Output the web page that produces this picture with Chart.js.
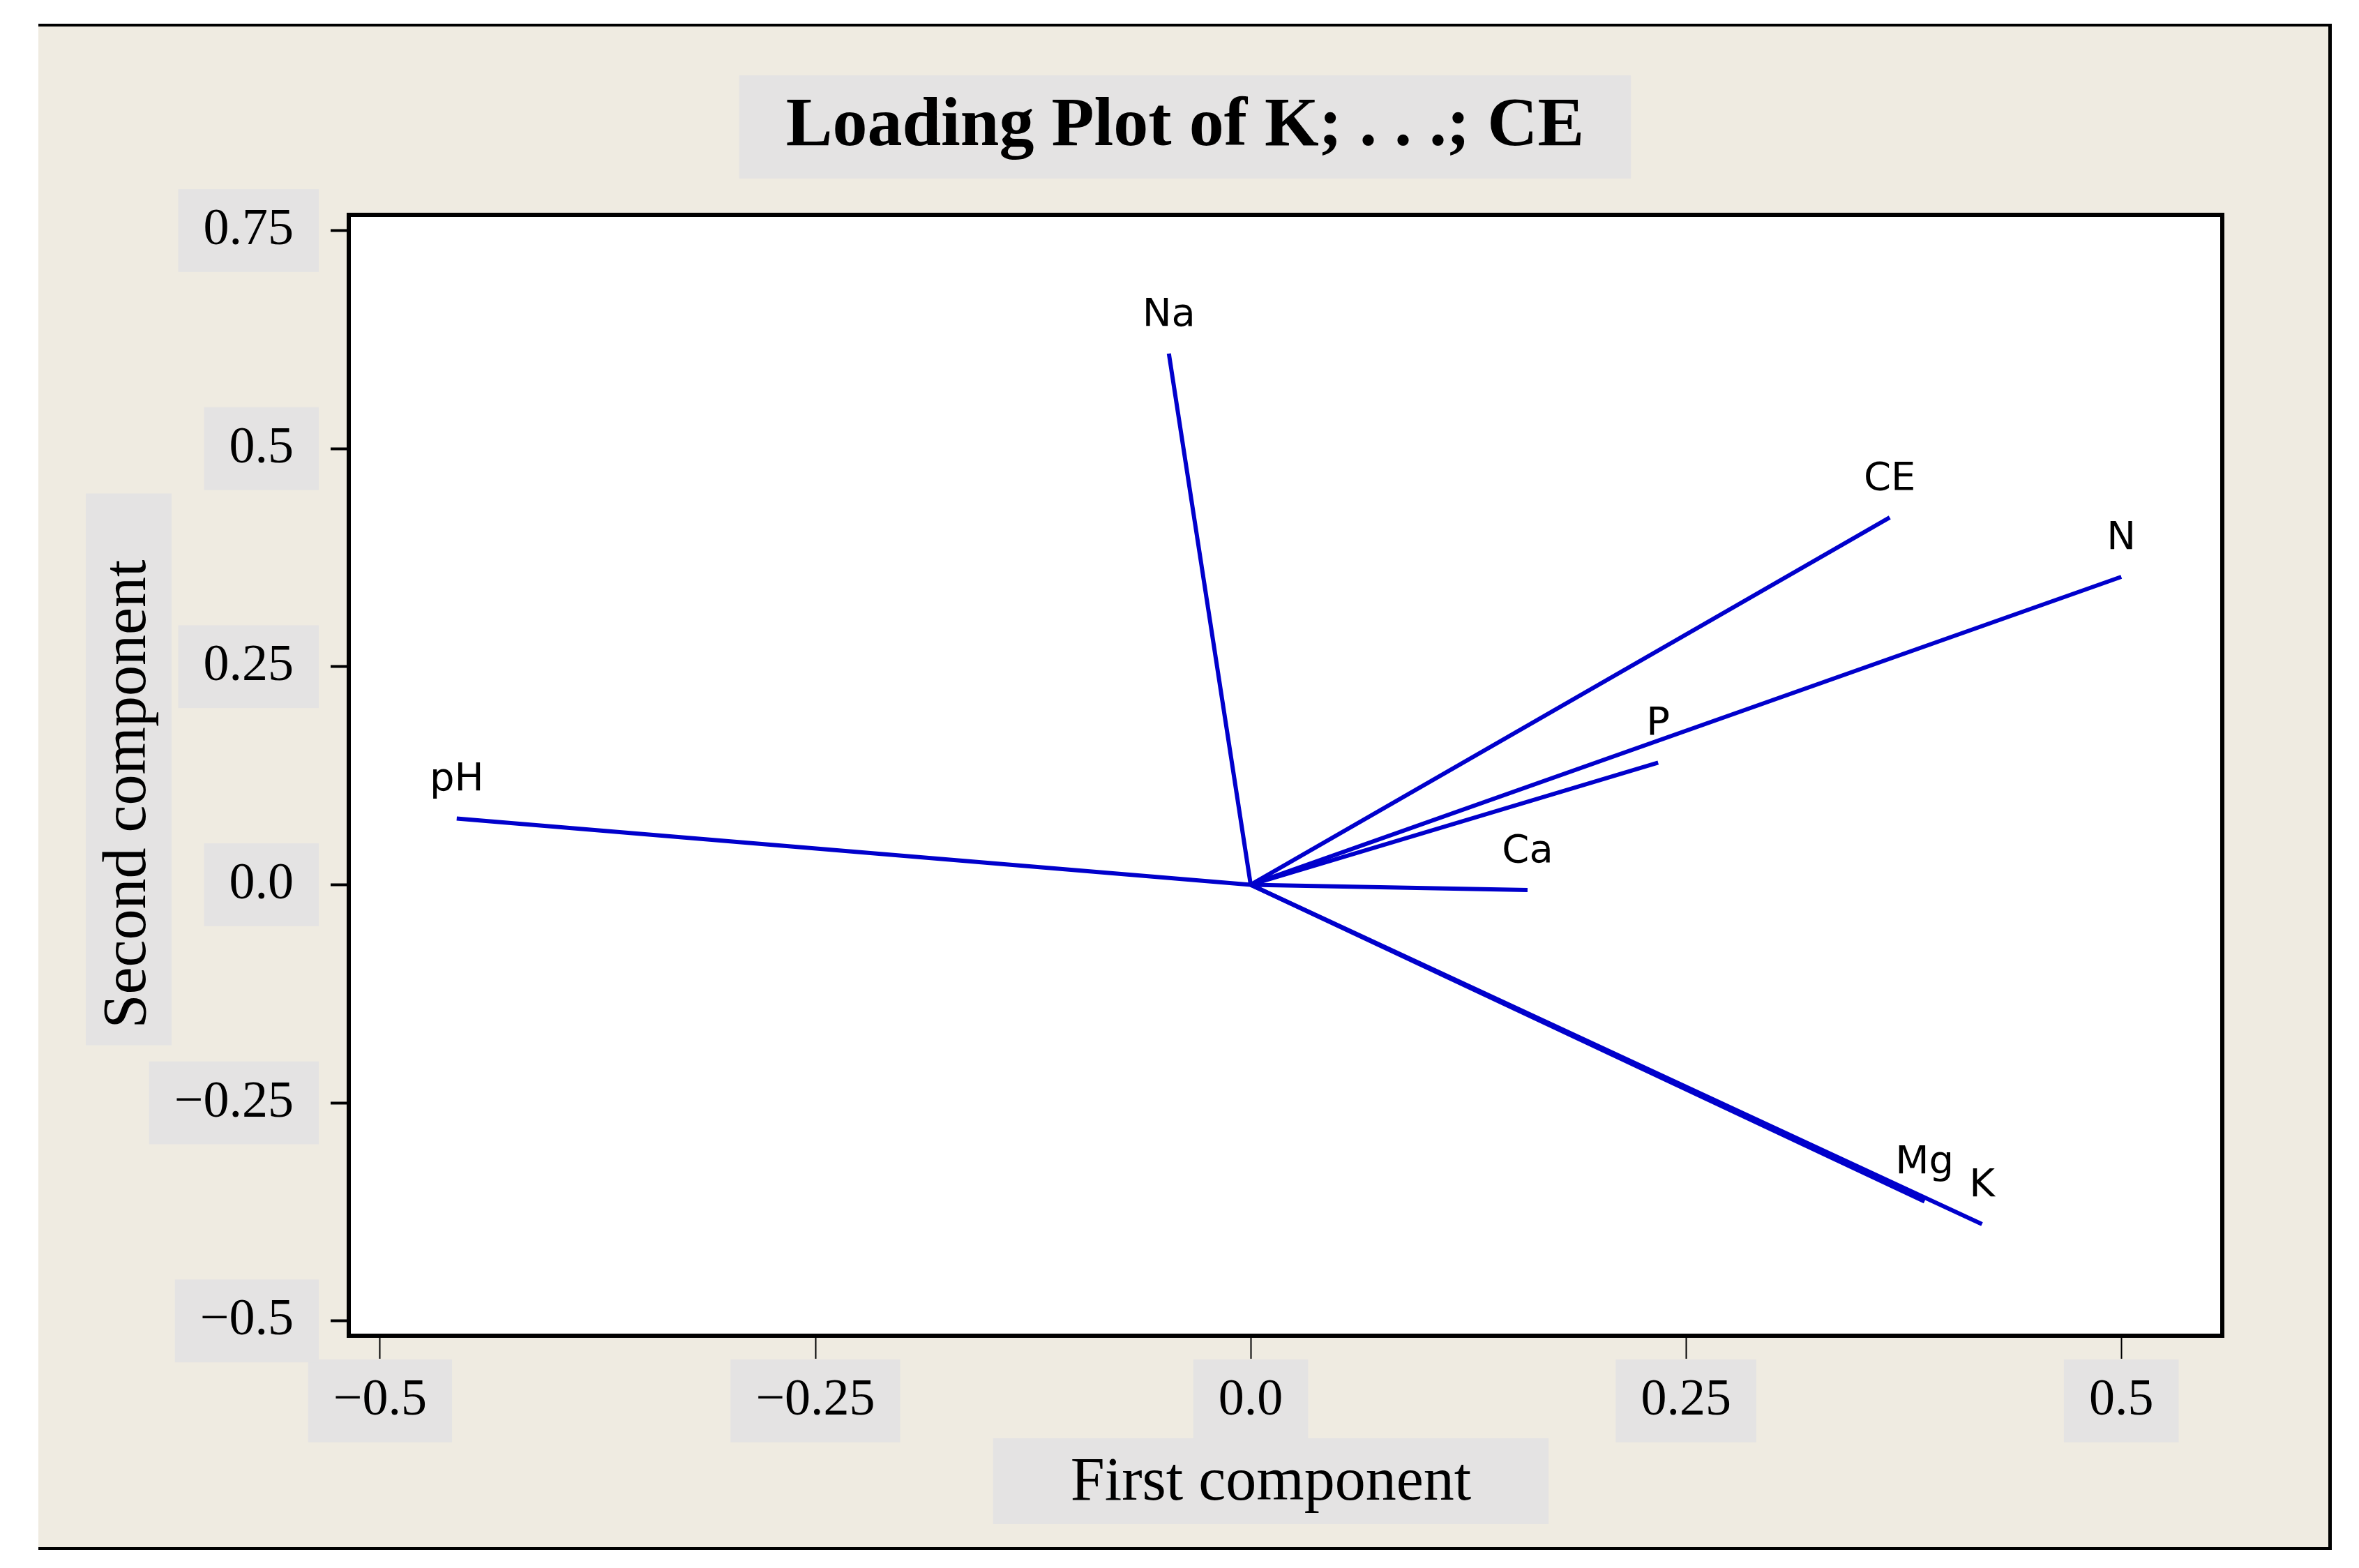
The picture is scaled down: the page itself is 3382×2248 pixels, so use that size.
<!DOCTYPE html>
<html lang="en">
<head>
    <meta charset="UTF-8">
    <title>Loading Plot of K; . . .; CE</title>
    <script src="https://cdnjs.cloudflare.com/ajax/libs/Chart.js/4.4.0/chart.umd.min.js"></script>
    <style>
        html, body { margin: 0; padding: 0; background: #ffffff; }
        body { width: 3382px; height: 2248px; position: relative; overflow: hidden; }
        .frame {
            position: absolute; left: 55px; top: 34px;
            width: 3283px; height: 2180px;
            background: #efebe1;
            border-top: 4px solid #000;
            border-right: 5px solid #000;
            border-bottom: 4px solid #000;
        }
        #loadingPlot { position: absolute; left: 0; top: 0; }
    </style>
</head>
<body>
    <div class="frame"></div>
    <canvas id="loadingPlot" width="3382" height="2248"></canvas>

    <script>
        // loadings
        const variables = ['K', 'Mg', 'Ca', 'Na', 'P', 'N', 'pH', 'CE'];
        const firstComponent = [0.420, 0.387, 0.159, -0.047, 0.234, 0.500, -0.456, 0.367];
        const secondComponent = [-0.389, -0.363, -0.006, 0.609, 0.140, 0.353, 0.076, 0.421];

        const xTicks = [-0.5, -0.25, 0, 0.25, 0.5];
        const xTickLabels = ['\u22120.5', '\u22120.25', '0.0', '0.25', '0.5'];
        const yTicks = [-0.5, -0.25, 0, 0.25, 0.5, 0.75];
        const yTickLabels = ['\u22120.5', '\u22120.25', '0.0', '0.25', '0.5', '0.75'];

        const titleText = 'Loading Plot of K; . . .; CE';
        const xTitle = 'First component';
        const yTitle = 'Second component';

        const grey = '#e4e3e3';
        const serif = 'Liberation Serif';

        // grey boxes, axis titles, white plot area, black frame, labels
        const panels = {
            id: 'panels',
            beforeDraw(chart) {
                const ctx = chart.ctx;
                const area = chart.chartArea;
                ctx.save();
                ctx.fillStyle = '#ffffff';
                ctx.fillRect(area.left, area.top, area.right - area.left, area.bottom - area.top);

                ctx.fillStyle = grey;
                // chart title box
                ctx.font = 'bold 100px "' + serif + '"';
                let w = ctx.measureText(titleText).width;
                const tb = chart.titleBlock;
                let cx = (tb.left + tb.right) / 2;
                let cy = tb.top + 85 + 60;
                ctx.fillRect(cx - w / 2 - 67, cy - 74, w + 134, 148);

                ctx.font = '88px "' + serif + '"';
                ctx.textAlign = 'center';
                ctx.textBaseline = 'middle';

                // x title
                const xs = chart.scales.x;
                w = ctx.measureText(xTitle).width;
                cx = (xs.left + xs.right) / 2 - 21;
                cy = xs.bottom - 92;
                ctx.fillStyle = grey;
                ctx.fillRect(cx - w / 2 - 111, cy - 65, w + 222, 123);
                ctx.fillStyle = '#000';
                ctx.fillText(xTitle, cx, cy);

                // y title
                const ys = chart.scales.y;
                w = ctx.measureText(yTitle).width;
                cx = ys.left + 130;
                cy = (ys.top + ys.bottom) / 2 + 27;
                ctx.fillStyle = grey;
                ctx.fillRect(cx - 62, cy - w / 2 - 95, 123, w + 119);
                ctx.translate(cx, cy);
                ctx.rotate(-Math.PI / 2);
                ctx.fillStyle = '#000';
                ctx.fillText(yTitle, 0, 0);
                ctx.restore();
            },
            afterDatasetsDraw(chart) {
                const ctx = chart.ctx;
                ctx.save();
                ctx.fillStyle = '#000';
                ctx.font = '56px "DejaVu Sans"';
                ctx.textAlign = 'center';
                ctx.textBaseline = 'alphabetic';
                chart.data.datasets.forEach((ds, i) => {
                    const pt = chart.getDatasetMeta(i).data[1];
                    ctx.fillText(ds.label, pt.x, pt.y - 40);
                });
                ctx.restore();
            },
            afterDraw(chart) {
                const ctx = chart.ctx;
                const area = chart.chartArea;
                ctx.save();
                ctx.strokeStyle = '#000';
                ctx.lineWidth = 6;
                ctx.strokeRect(area.left, area.top, area.right - area.left, area.bottom - area.top);
                ctx.restore();
            }
        };

        const datasets = variables.map((name, i) => ({
            label: name,
            data: [{ x: 0, y: 0 }, { x: firstComponent[i], y: secondComponent[i] }],
            showLine: true,
            borderColor: '#0000cc',
            borderWidth: 6,
            pointRadius: 0,
            fill: false,
            yAxisID: 'y'
        }));

        new Chart(document.getElementById('loadingPlot'), {
            type: 'scatter',
            data: { datasets: datasets },
            options: {
                responsive: false,
                devicePixelRatio: 1,
                animation: false,
                layout: { padding: { left: 55, top: 37, right: 39, bottom: 29 } },
                plugins: {
                    legend: { display: false },
                    tooltip: { enabled: false },
                    title: {
                        display: true,
                        text: titleText,
                        color: '#000',
                        font: { family: serif, size: 100, weight: 'bold' },
                        padding: { top: 85, bottom: 66 }
                    }
                },
                scales: {
                    x: {
                        type: 'linear',
                        position: 'bottom',
                        min: -0.518,
                        max: 0.558,
                        afterBuildTicks: s => { s.ticks = xTicks.map(v => ({ value: v })); },
                        afterFit: s => { s.height = 304; },
                        ticks: {
                            autoSkip: false,
                            maxRotation: 0,
                            color: '#000',
                            font: { family: serif, size: 74 },
                            padding: 16,
                            showLabelBackdrop: true,
                            backdropColor: grey,
                            backdropPadding: { x: 36, y: 15 },
                            callback: v => xTickLabels[xTicks.indexOf(v)]
                        },
                        grid: { drawOnChartArea: false, tickLength: 33, tickWidth: 2, tickColor: '#000' },
                        border: { display: false }
                    },
                    y: {
                        type: 'linear',
                        position: 'left',
                        min: -0.517,
                        max: 0.768,
                        afterBuildTicks: s => { s.ticks = yTicks.map(v => ({ value: v })); },
                        afterFit: s => { s.width = 445; },
                        ticks: {
                            autoSkip: false,
                            color: '#000',
                            font: { family: serif, size: 74 },
                            padding: 53,
                            showLabelBackdrop: true,
                            backdropColor: grey,
                            backdropPadding: { x: 36, y: 15 },
                            callback: v => yTickLabels[yTicks.indexOf(v)]
                        },
                        grid: { drawOnChartArea: false, tickLength: 26, tickWidth: 4, tickColor: '#000' },
                        border: { display: false }
                    },
                    // empty axis that only holds the gap right of the plot
                    yR: {
                        type: 'linear',
                        position: 'right',
                        afterFit: s => { s.width = 157; },
                        ticks: { display: false },
                        grid: { display: false },
                        border: { display: false }
                    }
                }
            },
            plugins: [panels]
        });
    </script>
</body>
</html>
